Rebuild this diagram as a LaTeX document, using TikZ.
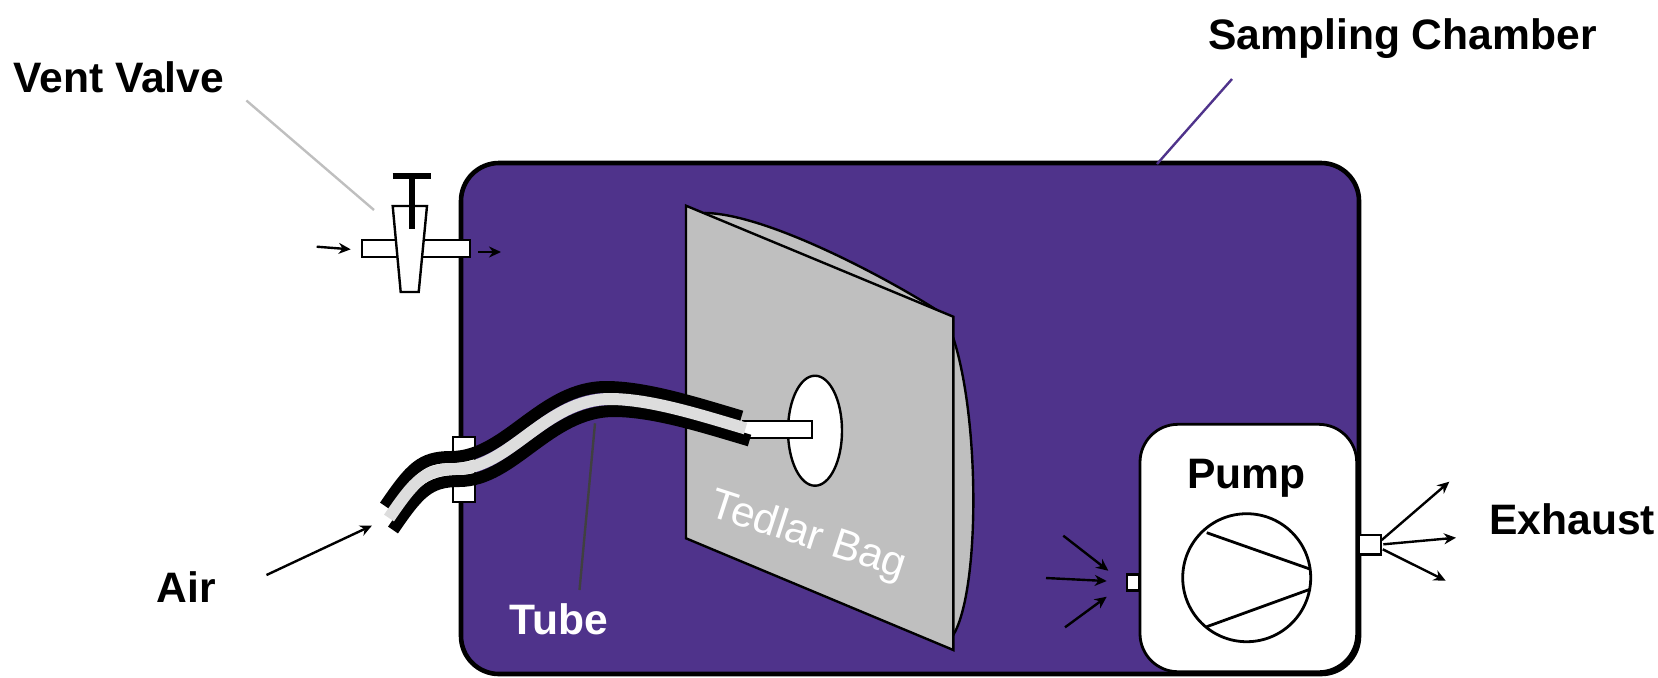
\documentclass[tikz,border=0pt]{standalone}
\usepackage{fontspec}
\setmainfont{Liberation Sans}
\usetikzlibrary{arrows.meta}
\definecolor{chamberviolet}{RGB}{79,51,139}
\definecolor{baggray}{RGB}{191,191,191}
\definecolor{tubegray}{RGB}{221,221,221}
\newcommand{\tubecurve}{(389,518) .. controls (415,480) and (425,469) .. (455,469) .. controls (510,469) and (545,399) .. (610,399) .. controls (650,399) and (700,415) .. (745.5,428.5)}
\tikzset{
  outlined/.style={draw=black,line width=1.2pt,fill=white},
  flow/.style={draw=black,line width=1.2pt,-{Stealth[length=6pt,width=5.5pt]}},
  thinout/.style={draw=black,line width=1.2pt,fill=baggray,line join=miter},
  lbl/.style={font=\fontsize{21.3}{24}\selectfont\bfseries,anchor=base west,inner sep=0pt,text=black},
  tubeband/.style={line width=6pt},
}
\begin{document}
\begin{tikzpicture}[x=0.5pt,y=-0.5pt]
\path[use as bounding box] (0,0) rectangle (1658,677);
% chamber
\draw[fill=chamberviolet,draw=black,line width=2.3pt,rounded corners=19pt] (461,163) rectangle (1359,674);
% bag back
\path[thinout] (706.7,213) .. controls (770,215) and (890,280) .. (936.7,310) -- (953.3,338) .. controls (980,420) and (980,590) .. (953.3,635) -- cycle;
% bag front
\path[thinout] (686,205.7) -- (953.3,316.7) -- (953.3,650) -- (686,538.3) -- cycle;
\draw[outlined] (815,430.7) ellipse [x radius=27,y radius=55];
\node[font=\fontsize{21.3}{24}\selectfont,text=white,rotate=-18,inner sep=0pt] (bag) at (808,536.5) {Tedlar Bag};
\path[outlined] (743,421) rectangle (811.7,437.7);
% clamp
\path[outlined] (452.7,436.7) rectangle (475,502);
% tube
\draw[black,tubeband,shift={(-4,-12)}] \tubecurve;
\draw[black,tubeband,shift={(4,12)}] \tubecurve;
\draw[tubegray,tubeband] \tubecurve;
% vent valve
\path[outlined] (362,240) rectangle (470,256.7);
\path[outlined] (392.7,206) -- (427,206) -- (418.7,292) -- (400.7,292) -- cycle;
\draw[black,line width=3pt] (411.7,175.7) -- (411.7,229);
\draw[black,line width=3pt] (392.7,175.7) -- (430.7,175.7);
% pump
\draw[outlined,line width=1.4pt,rounded corners=19pt] (1140,424.3) rectangle (1356.7,671.7);
\path[outlined] (1126.7,574.3) rectangle (1139,590.3);
\path[outlined] (1359,534.7) rectangle (1380.7,554.3);
\draw[outlined,line width=1.4pt] (1246.7,577.7) circle [radius=64];
\draw[black,line width=1.4pt] (1206.7,532.7) -- (1310.7,569.3);
\draw[black,line width=1.4pt] (1206.7,626.7) -- (1310.7,589);
% labels
\node[lbl] (vent) at (13,92) {Vent Valve};
\node[lbl] (samp) at (1208,49.7) {Sampling Chamber};
\node[lbl] (air) at (156,602) {Air};
\node[lbl,text=white] (tube) at (509,634) {Tube};
\node[lbl] (pump) at (1187,488) {Pump};
\node[lbl] (exh) at (1489,534) {Exhaust};
% leaders
\coordinate (ventA) at (246.4,100.5); \coordinate (ventB) at (374,210);
\coordinate (sampA) at (1232,79); \coordinate (sampB) at (1157,164);
\coordinate (tubeA) at (579.5,590); \coordinate (tubeB) at (595,423.3);
\coordinate (airA) at (266.5,575); \coordinate (airB) at (372,525.5);
\draw[draw={rgb,255:red,191;green,191;blue,191},line width=1.2pt] (ventA) -- (ventB);
\draw[chamberviolet,line width=1.2pt] (sampA) -- (sampB);
\draw[draw={rgb,255:red,64;green,64;blue,64},line width=1.2pt] (tubeA) -- (tubeB);
\draw[flow] (airA) -- (airB);
% flow arrows
\coordinate (v1) at (316.7,246.7); \coordinate (v2) at (350.7,249.3);
\coordinate (v3) at (478.3,252); \coordinate (v4) at (501,252);
\draw[flow] (v1) -- (v2);
\draw[flow] (v3) -- (v4);
\coordinate (i1) at (1063.3,535.7); \coordinate (i2) at (1108.3,570.7);
\coordinate (i3) at (1046,578); \coordinate (i4) at (1106.7,581);
\coordinate (i5) at (1065,627.3); \coordinate (i6) at (1106.7,596.7);
\draw[flow] (i1) -- (i2);
\draw[flow] (i3) -- (i4);
\draw[flow] (i5) -- (i6);
\coordinate (o1) at (1381.7,540); \coordinate (o2) at (1449.3,481.7);
\coordinate (o3) at (1383.3,544.3); \coordinate (o4) at (1456,537.7);
\coordinate (o5) at (1382.7,549.3); \coordinate (o6) at (1445.7,580.7);
\draw[flow] (o1) -- (o2);
\draw[flow] (o3) -- (o4);
\draw[flow] (o5) -- (o6);
\end{tikzpicture}
\end{document}
